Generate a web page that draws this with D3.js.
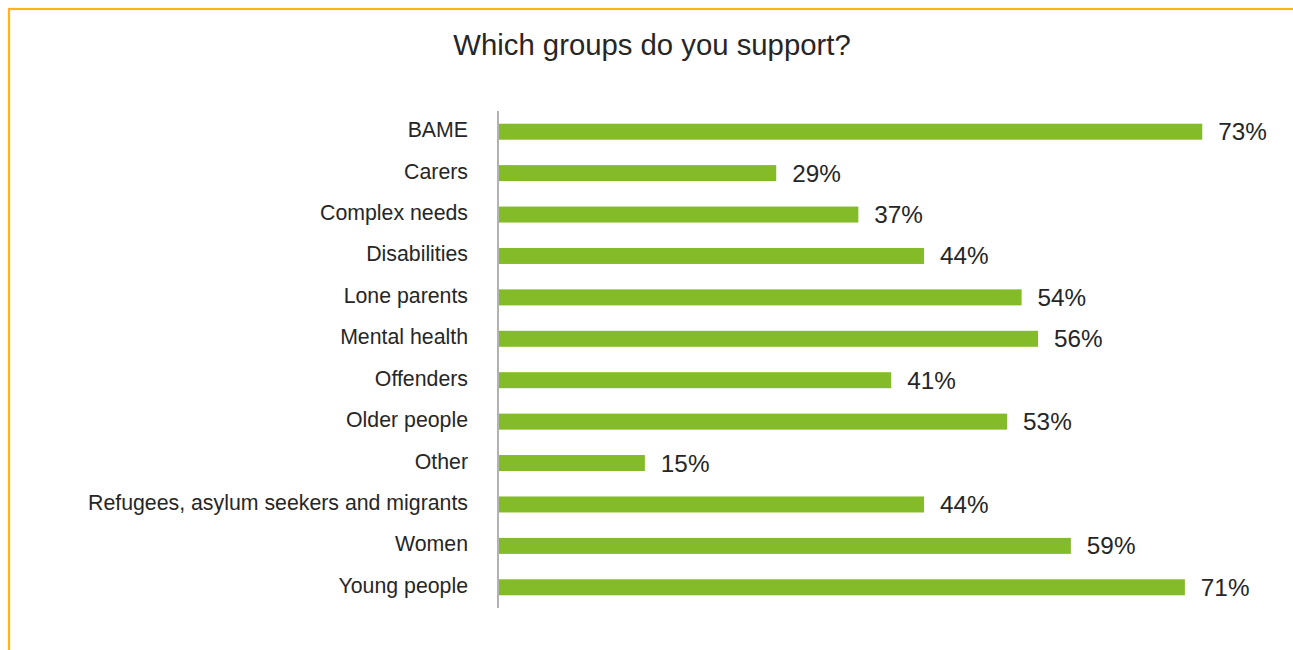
<!DOCTYPE html>
<html lang="en">
<head>
  <meta charset="UTF-8">
  <title>Which groups do you support?</title>
  <script src="https://d3js.org/d3.v7.min.js"></script>
  <style>
    body { margin: 0; background: #fff; }
    svg { display: block; font-family: "Liberation Sans", Arial, sans-serif; }
  </style>
</head>
<body>
  <svg id="chart" width="1293" height="650"></svg>

<script>
const groups = ["BAME", "Carers", "Complex needs", "Disabilities", "Lone parents", "Mental health",
  "Offenders", "Older people", "Other", "Refugees, asylum seekers and migrants", "Women", "Young people"];
// bar lengths; labels show them rounded
const shares = [72.8, 28.7, 37.2, 44.0, 54.1, 55.8, 40.6, 52.6, 15.1, 44.0, 59.2, 71.0];

const svg = d3.select("#chart");

// frame (only top and left edges show)
svg.append("rect")
  .attr("x", 9).attr("y", 9)
  .attr("width", 1400).attr("height", 800)
  .attr("fill", "none")
  .attr("stroke", "#fdb515")
  .attr("stroke-width", 2.2);

svg.append("text")
  .attr("x", 652).attr("y", 55)
  .attr("text-anchor", "middle")
  .style("font-size", "29.3px")
  .style("fill", "#262626")
  .text("Which groups do you support?");

const x = d3.scaleLinear().domain([0, 100]).range([499, 1465]);
const y = d3.scaleBand().domain(groups).range([111, 608]);
const barH = 16;

// bars
svg.selectAll("rect.bar")
  .data(groups)
  .join("rect")
  .attr("class", "bar")
  .attr("x", x(0))
  .attr("y", d => y(d) + y.bandwidth() / 2 - barH / 2)
  .attr("width", (d, i) => x(shares[i]) - x(0))
  .attr("height", barH)
  .attr("fill", "#84bb29");

// category labels
svg.selectAll("text.cat")
  .data(groups)
  .join("text")
  .attr("class", "cat")
  .attr("x", 468)
  .attr("y", d => y(d) + y.bandwidth() / 2 + 5.5)
  .attr("text-anchor", "end")
  .style("font-size", "21.3px")
  .style("fill", "#262626")
  .text(d => d);

// value labels
svg.selectAll("text.val")
  .data(groups)
  .join("text")
  .attr("class", "val")
  .attr("x", (d, i) => x(shares[i]) + 16)
  .attr("y", d => y(d) + y.bandwidth() / 2 + 8.5)
  .style("font-size", "24.3px")
  .style("fill", "#262626")
  .text((d, i) => Math.round(shares[i]) + "%");

// axis line
svg.append("line")
  .attr("x1", 498).attr("x2", 498)
  .attr("y1", 111).attr("y2", 608)
  .attr("stroke", "#999")
  .attr("stroke-width", 1.5);
</script>
</body>
</html>
